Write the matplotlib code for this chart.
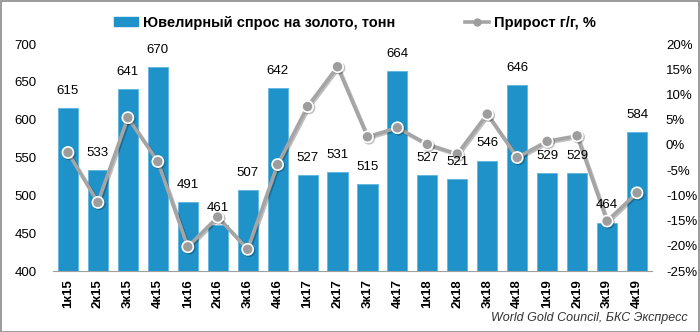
import matplotlib
matplotlib.use("Agg")
import matplotlib.pyplot as plt
from matplotlib.lines import Line2D
from matplotlib.patches import Patch
import matplotlib.patheffects as pe

categories = ["1к15", "2к15", "3к15", "4к15", "1к16", "2к16", "3к16", "4к16",
              "1к17", "2к17", "3к17", "4к17", "1к18", "2к18", "3к18", "4к18",
              "1к19", "2к19", "3к19", "4к19"]
demand = [615, 533, 641, 670, 491, 461, 507, 642, 527, 531, 515, 664,
          527, 521, 546, 646, 529, 529, 464, 584]
growth = [-1.5, -11.4, 5.4, -3.3, -20.2, -14.3, -20.7, -3.9, 7.6, 15.5,
          1.6, 3.4, 0.1, -1.8, 6.1, -2.5, 0.7, 1.8, -15.1, -9.5]
left_ticks = [400, 450, 500, 550, 600, 650, 700]
right_ticks = [-25, -20, -15, -10, -5, 0, 5, 10, 15, 20]

plt.rcParams['font.family'] = ['Liberation Sans', 'DejaVu Sans']

BAR = "#1f93c9"
LINE = "#a5a5a5"

fig = plt.figure(figsize=(7.0, 3.32), dpi=100)
W, H = 700, 332
ax = fig.add_axes([53 / W, 1 - 271 / H, (652 - 53) / W, (271 - 44) / H])
x = list(range(len(categories)))
ax.bar(x, demand, width=0.67, color=BAR, edgecolor="#5fb6e0", linewidth=0.6, zorder=2)
ax.set_ylim(400, 700)
ax.set_xlim(-0.5, len(categories) - 0.5)
ax.set_yticks(left_ticks)
ax.set_yticklabels([str(v) for v in left_ticks], fontsize=9.5)
ax.set_xticks(x)
ax.set_xticklabels(categories, rotation=90, fontsize=9.5, fontweight="bold")
for s in ["top", "right", "left"]:
    ax.spines[s].set_visible(False)
ax.spines["bottom"].set_color("#a0a0a0")
ax.tick_params(axis="both", length=0)
ax.tick_params(axis="y", pad=12)
ax.tick_params(axis="x", pad=6)

ax2 = ax.twinx()
ax2.plot(x, growth, color=LINE, linewidth=2.6, marker="o", markersize=8,
         markerfacecolor="#9d9d9d", markeredgecolor="white", markeredgewidth=1.2,
         zorder=4,
         path_effects=[pe.SimpleLineShadow(offset=(1, -1), alpha=0.25), pe.Normal()])
ax2.set_ylim(-25, 20)
ax2.set_yticks(right_ticks)
ax2.set_yticklabels([f"{v}%" for v in right_ticks], fontsize=9.5)
for s in ["top", "right", "left", "bottom"]:
    ax2.spines[s].set_visible(False)
ax2.tick_params(axis="y", length=0, pad=10)

# data labels drawn on top of the line
for xi, v in zip(x, demand):
    ax2.annotate(str(v), (xi, v), xycoords=ax.transData, xytext=(0, 8),
                 textcoords="offset points", ha="center", va="bottom",
                 fontsize=9.5, zorder=6)

handles = [Patch(facecolor=BAR, edgecolor=BAR),
           Line2D([0], [0], color=LINE, linewidth=2.6, marker="o", markersize=5,
                  markerfacecolor="#9d9d9d", markeredgecolor="#9d9d9d")]
labels = ["Ювелирный спрос на золото, тонн", "Прирост г/г, %"]
fig.legend(handles, labels, loc="center", bbox_to_anchor=(355 / W, 1 - 23 / H), ncol=2,
           frameon=False, prop={"weight": "bold", "size": 10.5}, columnspacing=4.8,
           handlelength=1.65, handletextpad=0.34, handleheight=0.6)

fig.text(688 / W, 1 - 318 / H, "World Gold Council, БКС Экспресс", ha="right",
         va="center", fontsize=9, style="italic", color="#333333")

border = plt.Rectangle((0.5 / W, 0.5 / H), 1 - 1.5 / W, 1 - 1.5 / H, transform=fig.transFigure,
                       fill=False, edgecolor="#8a8a8a", linewidth=1.2)
fig.patches.append(border)

fig.savefig("out.png", dpi=100)
